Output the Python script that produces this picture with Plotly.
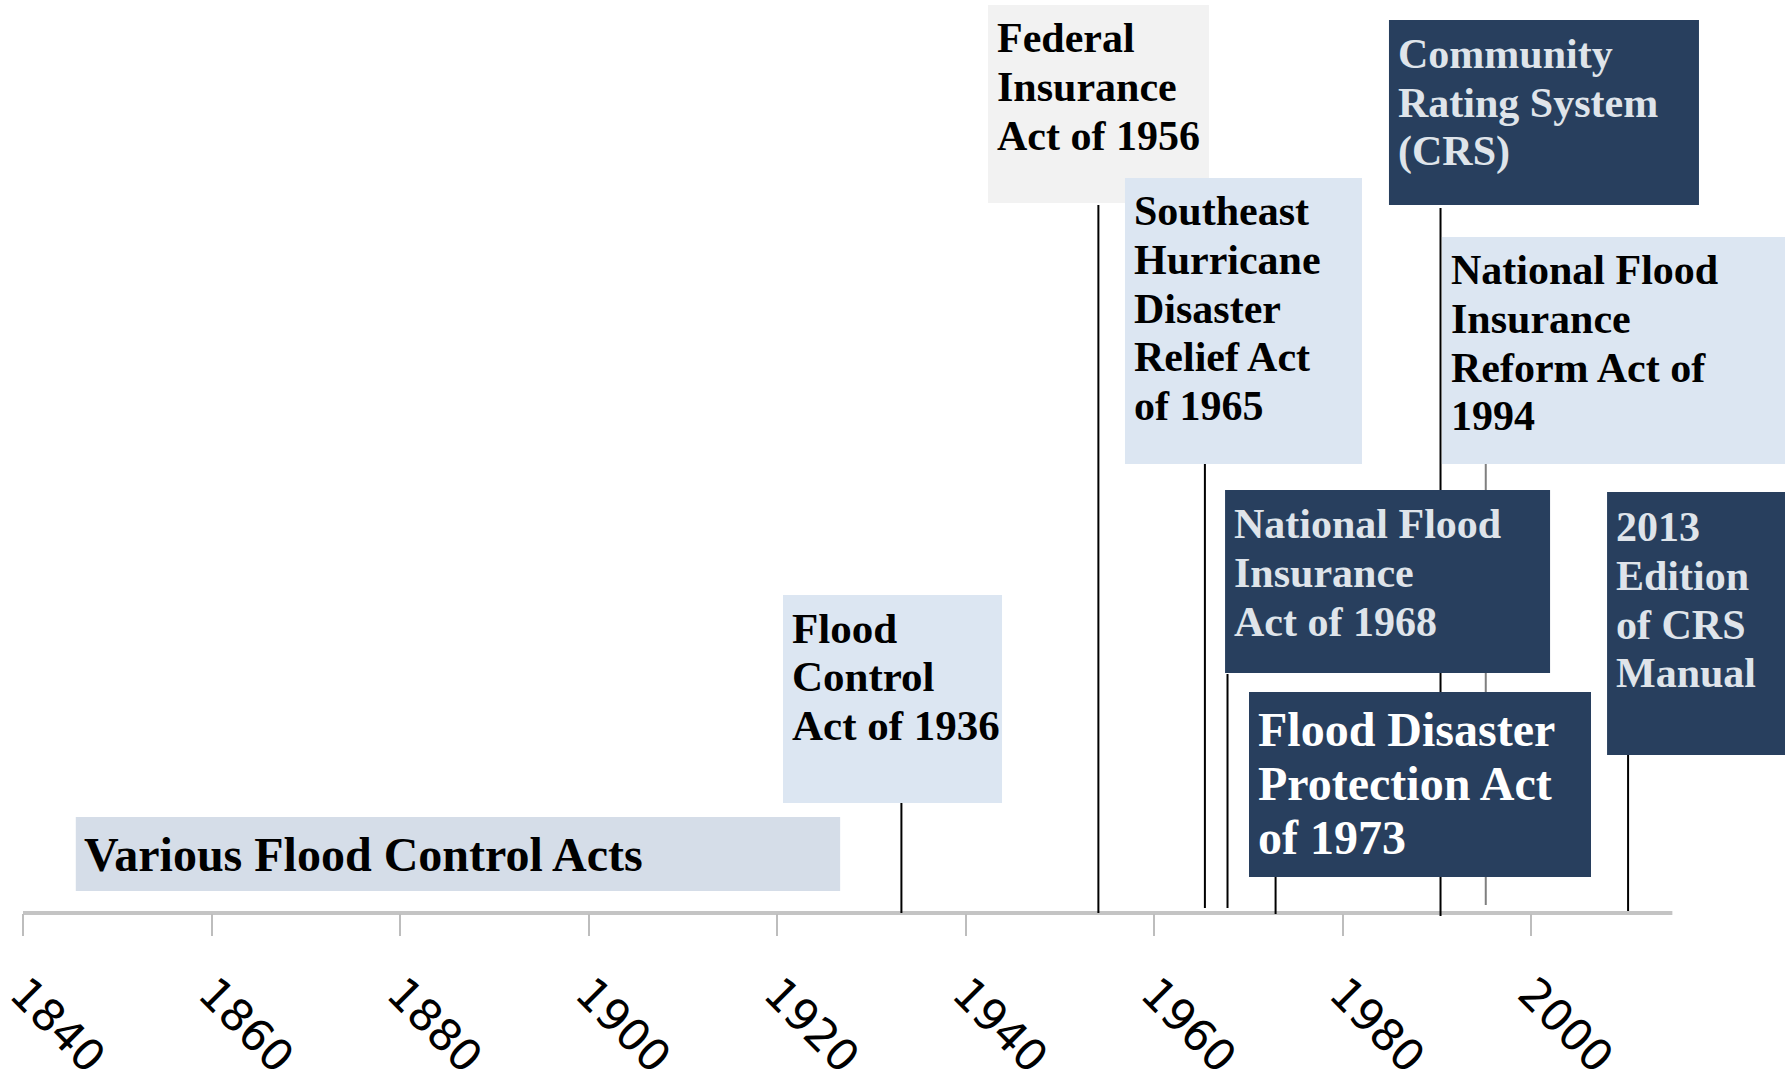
import plotly.graph_objects as go

# ---------------- data ----------------
event_labels = [
    "Flood<br>Control<br>Act of 1936",
    "Federal<br>Insurance<br>Act of 1956",
    "Southeast<br>Hurricane<br>Disaster<br>Relief Act<br>of 1965",
    "National Flood<br>Insurance<br>Act of 1968",
    "Flood Disaster<br>Protection Act<br>of 1973",
    "Community<br>Rating System<br>(CRS)",
    "National Flood<br>Insurance<br>Reform Act of<br>1994",
    "2013<br>Edition<br>of CRS<br>Manual",
]
# x position of each event's connector line on the year axis
event_line_x = [1933.2, 1954.1, 1965.4, 1967.8, 1972.9, 1990.4, 1995.2, 2010.3]

period_label = "Various Flood Control Acts"
period_start = 1845.6
period_end = 1926.7

tick_years = [1840, 1860, 1880, 1900, 1920, 1940, 1960, 1980, 2000]
tick_labels = [str(y) for y in tick_years]
axis_span = [1840, 2015]

# ---------------- layout / style ----------------
W, H = 1785, 1086
AXIS_PX = 913          # axis line, pixels from top
PX_PER_YEAR = 9.425
X0 = 1840 - 23 / PX_PER_YEAR
X1 = X0 + W / PX_PER_YEAR
B_MARGIN = 100
Y_BOTTOM = -(H - B_MARGIN - AXIS_PX)   # 1 y-unit == 1 px, y=0 at axis

NAVY = "#283f5e"
LBLUE = "#dce6f2"
LGRAY = "#f2f2f2"
PGRAY = "#d5dde8"
LTXT = "#dfe4ea"

# per event box: left (year), top (px above axis), width px, height px, fill, text colour,
# font size, first-line offset, line spacing
box_style = [
    dict(left=1920.64, top=318, w=219, h=208, bg=LBLUE, fc="black", fs=43, off=33, sp=48.8),
    dict(left=1942.39, top=908, w=221, h=198, bg=LGRAY, fc="black", fs=42, off=33, sp=48.8),
    dict(left=1956.92, top=735, w=237, h=286, bg=LBLUE, fc="black", fs=42, off=33, sp=48.8),
    dict(left=1967.54, top=423, w=325, h=183, bg=NAVY, fc=LTXT, fs=42, off=34, sp=48.8),
    dict(left=1970.08, top=221, w=342, h=185, bg=NAVY, fc="white", fs=48, off=37, sp=54),
    dict(left=1984.93, top=893, w=310, h=185, bg=NAVY, fc=LTXT, fs=42, off=34, sp=48.8),
    dict(left=1990.55, top=676, w=360, h=227, bg=LBLUE, fc="black", fs=42, off=33, sp=48.8),
    dict(left=2008.07, top=421, w=200, h=263, bg=NAVY, fc=LTXT, fs=42, off=35, sp=48.8),
]
# connector line vertical extent (px above axis) and colour
line_style = [
    dict(y0=0, y1=110, c="black"),
    dict(y0=0, y1=708, c="black"),
    dict(y0=5, y1=451, c="black"),
    dict(y0=5, y1=239, c="black"),
    dict(y0=-1, y1=36, c="black"),
    dict(y0=-3, y1=705, c="black"),
    dict(y0=8, y1=449, c="#7f7f7f"),
    dict(y0=2, y1=158, c="black"),
]

FONT = "Liberation Serif"
INSET = 7

fig = go.Figure()

# axis line
fig.add_trace(go.Scatter(x=axis_span, y=[0, 0], mode="lines",
                         line=dict(color="#c4c4c4", width=4),
                         hoverinfo="skip", showlegend=False))

# connector lines
for lx, ls in zip(event_line_x, line_style):
    fig.add_trace(go.Scatter(x=[lx, lx], y=[ls["y0"], ls["y1"]], mode="lines",
                             line=dict(color=ls["c"], width=2),
                             hoverinfo="skip", showlegend=False))

shapes = []
annotations = []

# period box
shapes.append(dict(type="rect", xref="x", yref="y", x0=period_start, x1=period_end,
                   y0=96 - 74, y1=96, fillcolor=PGRAY, line=dict(width=0), layer="above"))
annotations.append(dict(
    x=period_start, y=96 - 37, xref="x", yref="y", xanchor="left", yanchor="middle",
    xshift=6, text="<b>" + period_label + "</b>", showarrow=False,
    font=dict(family=FONT, size=48, color="black")))

for lab, bs in zip(event_labels, box_style):
    shapes.append(dict(type="rect", xref="x", yref="y",
                       x0=bs["left"], x1=bs["left"] + bs["w"] / PX_PER_YEAR,
                       y0=bs["top"] - bs["h"], y1=bs["top"],
                       fillcolor=bs["bg"], line=dict(width=0), layer="above"))
    for i, line_txt in enumerate(lab.split("<br>")):
        annotations.append(dict(
            x=bs["left"], y=bs["top"] - bs["off"] - i * bs["sp"],
            xref="x", yref="y", xanchor="left", yanchor="middle", xshift=INSET,
            text="<b>" + line_txt + "</b>", showarrow=False,
            font=dict(family=FONT, size=bs["fs"], color=bs["fc"])))

fig.update_layout(
    width=W, height=H,
    margin=dict(l=0, r=0, t=0, b=B_MARGIN, autoexpand=False),
    paper_bgcolor="white", plot_bgcolor="white",
    showlegend=False,
    shapes=shapes,
    annotations=annotations,
    xaxis=dict(range=[X0, X1], anchor="free",
               position=(-Y_BOTTOM) / (AXIS_PX - Y_BOTTOM),
               showgrid=False, zeroline=False, showline=False,
               tickmode="array", tickvals=tick_years, ticktext=tick_labels,
               ticks="outside", ticklen=22, tickwidth=2, tickcolor="#bdbdbd",
               tickangle=45, ticklabelstandoff=14,
               tickfont=dict(family="DejaVu Sans", size=44, color="black"),
               automargin=False, fixedrange=True),
    yaxis=dict(range=[Y_BOTTOM, AXIS_PX], visible=False, fixedrange=True),
)

fig.write_html("out.html",
               config={"displayModeBar": False, "staticPlot": True},
               post_script="document.body.style.margin='0';document.body.style.overflow='hidden';")
